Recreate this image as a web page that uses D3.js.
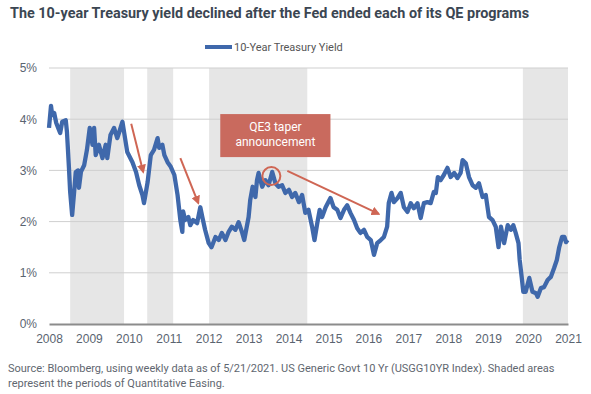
<!DOCTYPE html>
<html>
<head>
<meta charset="utf-8">
<style>
  body { margin: 0; background: #fff; font-family: Roboto, "Noto Sans", sans-serif; }
  .grid line { stroke: #cfcfcf; stroke-width: 1; }
  .axis text { fill: #5a6470; font-size: 12px; }
  .title { font-weight: 700; font-size: 14.4px; fill: #3b4652; }
  .legend text { fill: #555; font-size: 11px; }
  .source { fill: #5f6770; font-size: 11px; }
  .note { fill: #fff; font-size: 12px; }
</style>
<script src="https://cdn.jsdelivr.net/npm/d3@7"></script>
</head>
<body>
<div id="chart"></div>
<script>
// weekly 10-year yield (decimal year, percent)
var years = [2008.00, 2008.05, 2008.08, 2008.13, 2008.18, 2008.23, 2008.28, 2008.33, 2008.42, 2008.45,
  2008.50, 2008.53, 2008.58, 2008.63, 2008.67, 2008.73, 2008.75, 2008.80, 2008.88, 2008.95,
  2009.02, 2009.09, 2009.13, 2009.17, 2009.25, 2009.34, 2009.42, 2009.46, 2009.54, 2009.63,
  2009.71, 2009.76, 2009.84, 2009.88, 2009.96, 2010.09, 2010.18, 2010.26, 2010.34, 2010.38,
  2010.47, 2010.55, 2010.63, 2010.72, 2010.76, 2010.84, 2010.89, 2010.97, 2011.05, 2011.14,
  2011.22, 2011.29, 2011.34, 2011.36, 2011.41, 2011.49, 2011.54, 2011.61, 2011.71, 2011.79,
  2011.84, 2011.91, 2012.00, 2012.07, 2012.17, 2012.25, 2012.33, 2012.42, 2012.50, 2012.58,
  2012.67, 2012.75, 2012.84, 2012.89, 2013.00, 2013.04, 2013.10, 2013.17, 2013.21, 2013.25,
  2013.34, 2013.42, 2013.50, 2013.59, 2013.67, 2013.75, 2013.84, 2013.92, 2014.01, 2014.09,
  2014.17, 2014.26, 2014.34, 2014.42, 2014.50, 2014.59, 2014.65, 2014.72, 2014.78, 2014.84,
  2014.93, 2015.05, 2015.13, 2015.22, 2015.30, 2015.39, 2015.47, 2015.55, 2015.64, 2015.72,
  2015.80, 2015.89, 2015.97, 2016.06, 2016.14, 2016.22, 2016.31, 2016.39, 2016.47, 2016.51,
  2016.58, 2016.64, 2016.73, 2016.81, 2016.89, 2016.98, 2017.06, 2017.14, 2017.23, 2017.31,
  2017.39, 2017.48, 2017.56, 2017.64, 2017.69, 2017.74, 2017.81, 2017.89, 2017.98, 2018.06,
  2018.15, 2018.23, 2018.31, 2018.36, 2018.44, 2018.52, 2018.61, 2018.69, 2018.77, 2018.86,
  2018.94, 2019.02, 2019.11, 2019.19, 2019.26, 2019.32, 2019.40, 2019.49, 2019.57, 2019.63,
  2019.69, 2019.76, 2019.79, 2019.84, 2019.88, 2019.94, 2020.03, 2020.11, 2020.20, 2020.24,
  2020.32, 2020.40, 2020.49, 2020.57, 2020.65, 2020.72, 2020.78, 2020.85, 2020.91, 2020.95,
  2020.99];
var yields = [3.83, 4.26, 4.08, 4.12, 3.93, 3.83, 3.73, 3.95, 3.98, 3.75,
  3.05, 2.58, 2.13, 2.58, 2.97, 3.00, 2.66, 2.97, 3.10, 3.40,
  3.83, 3.50, 3.83, 3.30, 3.50, 3.24, 3.50, 3.24, 3.69, 3.83,
  3.63, 3.75, 3.95, 3.75, 3.36, 3.16, 2.97, 2.71, 2.52, 2.36,
  2.77, 3.30, 3.40, 3.63, 3.44, 3.50, 3.30, 3.16, 3.07, 2.91,
  2.52, 2.03, 1.80, 2.20, 2.03, 2.09, 1.93, 2.03, 1.97, 2.28,
  2.09, 1.84, 1.58, 1.50, 1.70, 1.64, 1.78, 1.64, 1.80, 1.90,
  1.84, 1.99, 1.78, 1.64, 2.09, 2.42, 2.68, 2.48, 2.81, 2.95,
  2.68, 2.81, 2.71, 2.97, 2.75, 2.68, 2.71, 2.56, 2.62, 2.48,
  2.56, 2.38, 2.52, 2.17, 2.23, 1.90, 1.64, 1.97, 2.23, 2.09,
  2.28, 2.46, 2.28, 2.23, 2.07, 2.23, 2.32, 2.17, 2.03, 1.87,
  1.78, 1.84, 1.70, 1.64, 1.35, 1.58, 1.64, 1.70, 1.90, 2.36,
  2.56, 2.38, 2.46, 2.56, 2.28, 2.19, 2.36, 2.26, 2.36, 2.07,
  2.36, 2.38, 2.36, 2.58, 2.56, 2.87, 2.81, 2.91, 3.05, 2.87,
  2.95, 2.85, 2.95, 3.20, 3.14, 2.87, 2.71, 2.66, 2.75, 2.48,
  2.52, 2.09, 2.03, 1.90, 1.50, 1.90, 1.58, 1.93, 1.84, 1.93,
  1.78, 1.58, 1.25, 0.92, 0.63, 0.63, 0.90, 0.63, 0.60, 0.53,
  0.70, 0.72, 0.86, 0.92, 1.09, 1.25, 1.50, 1.70, 1.70, 1.60,
  1.64];

// QE periods (shaded)
var qeStart = [2008.53, 2010.46, 2012.01, 2019.87];
var qeEnd = [2009.88, 2011.11, 2014.47, 2021.00];

var yTicks = [0, 1, 2, 3, 4, 5];
var xTicks = [2008, 2009, 2010, 2011, 2012, 2013, 2014, 2015, 2016, 2017, 2018, 2019, 2020, 2021];

// annotation arrows: [fromYear, fromYield, toYear, toYield]
var arrows = [
  [2010.06, 3.91, 2010.36, 2.97],
  [2011.29, 3.24, 2011.74, 2.36],
  [2013.97, 2.99, 2016.26, 2.15]
];

var titleText = "The 10-year Treasury yield declined after the Fed ended each of its QE programs";
var sourceLines = [
  "Source: Bloomberg, using weekly data as of 5/21/2021. US Generic Govt 10 Yr (USGG10YR Index). Shaded areas",
  "represent the periods of Quantitative Easing."
];

var W = 591, H = 394;
var margin = {top: 68, right: 23, bottom: 70, left: 49},
    width = W - margin.left - margin.right,
    height = H - margin.top - margin.bottom;

var svg = d3.select("#chart").append("svg")
    .attr("width", W)
    .attr("height", H);

svg.append("text")
    .attr("class", "title")
    .attr("x", 10)
    .attr("y", 18)
    .text(titleText);

var x = d3.scaleLinear().domain([2008, 2021]).range([0, width]);
var y = d3.scaleLinear().domain([0, 5]).range([height, 0]);

var g = svg.append("g")
    .attr("transform", "translate(" + margin.left + "," + margin.top + ")");

// shading
g.selectAll(".qe")
  .data(qeStart)
  .enter().append("rect")
    .attr("class", "qe")
    .attr("x", function(d) { return x(d); })
    .attr("width", function(d, i) { return x(qeEnd[i]) - x(d); })
    .attr("y", 0)
    .attr("height", height)
    .attr("fill", "#e6e6e6");

// gridlines
g.append("g")
    .attr("class", "grid")
  .selectAll("line")
  .data(yTicks.slice(1))
  .enter().append("line")
    .attr("x1", 0)
    .attr("x2", width)
    .attr("y1", function(d) { return y(d); })
    .attr("y2", function(d) { return y(d); });

// axes
var yAxis = g.append("g")
    .attr("class", "axis")
    .call(d3.axisLeft(y).tickValues(yTicks).tickFormat(function(d) { return d + "%"; }).tickSize(0).tickPadding(12));
yAxis.select(".domain").remove();

var xAxis = g.append("g")
    .attr("class", "axis")
    .attr("transform", "translate(0," + height + ")")
    .call(d3.axisBottom(x).tickValues(xTicks).tickFormat(d3.format("d")).tickSize(0).tickPadding(10));
xAxis.select(".domain")
    .attr("stroke", "#8c8c8c")
    .attr("stroke-width", 2);

// yield line
var line = d3.line()
    .x(function(d, i) { return x(years[i]); })
    .y(function(d) { return y(d); });

g.append("path")
    .datum(yields)
    .attr("fill", "none")
    .attr("stroke", "#3f68ab")
    .attr("stroke-width", 4.3)
    .attr("stroke-linejoin", "round")
    .attr("d", line);

// annotations
var red = "#cf6654";
svg.append("defs").append("marker")
    .attr("id", "head")
    .attr("viewBox", "0 0 10 10")
    .attr("refX", 8)
    .attr("refY", 5)
    .attr("markerWidth", 4.5)
    .attr("markerHeight", 4.5)
    .attr("orient", "auto")
  .append("path")
    .attr("d", "M0,0L10,5L0,10z")
    .attr("fill", red);

g.selectAll(".arrow")
  .data(arrows)
  .enter().append("line")
    .attr("class", "arrow")
    .attr("x1", function(d) { return x(d[0]); })
    .attr("y1", function(d) { return y(d[1]); })
    .attr("x2", function(d) { return x(d[2]); })
    .attr("y2", function(d) { return y(d[3]); })
    .attr("stroke", red)
    .attr("stroke-width", 2)
    .attr("marker-end", "url(#head)");

g.append("circle")
    .attr("cx", x(2013.57))
    .attr("cy", y(2.89))
    .attr("r", 9)
    .attr("fill", "none")
    .attr("stroke", red)
    .attr("stroke-width", 2);

var box = g.append("g");
box.append("rect")
    .attr("x", x(2012.29))
    .attr("y", y(4.10))
    .attr("width", x(2015.05) - x(2012.29))
    .attr("height", y(3.26) - y(4.10))
    .attr("fill", "#c96a5e");
box.selectAll("text")
  .data(["QE3 taper", "announcement"])
  .enter().append("text")
    .attr("class", "note")
    .attr("x", x(2013.67))
    .attr("y", function(d, i) { return y(4.10) + 17 + i * 15; })
    .attr("text-anchor", "middle")
    .text(function(d) { return d; });

// legend
var legend = svg.append("g").attr("class", "legend");
legend.append("line")
    .attr("x1", 205).attr("x2", 232)
    .attr("y1", 47).attr("y2", 47)
    .attr("stroke", "#3f68ab")
    .attr("stroke-width", 4);
legend.append("text")
    .attr("x", 234)
    .attr("y", 51)
    .text("10-Year Treasury Yield");

// source note
svg.selectAll(".source")
  .data(sourceLines)
  .enter().append("text")
    .attr("class", "source")
    .attr("x", 8)
    .attr("y", function(d, i) { return 372 + i * 15; })
    .text(function(d) { return d; });
</script>
</body>
</html>
